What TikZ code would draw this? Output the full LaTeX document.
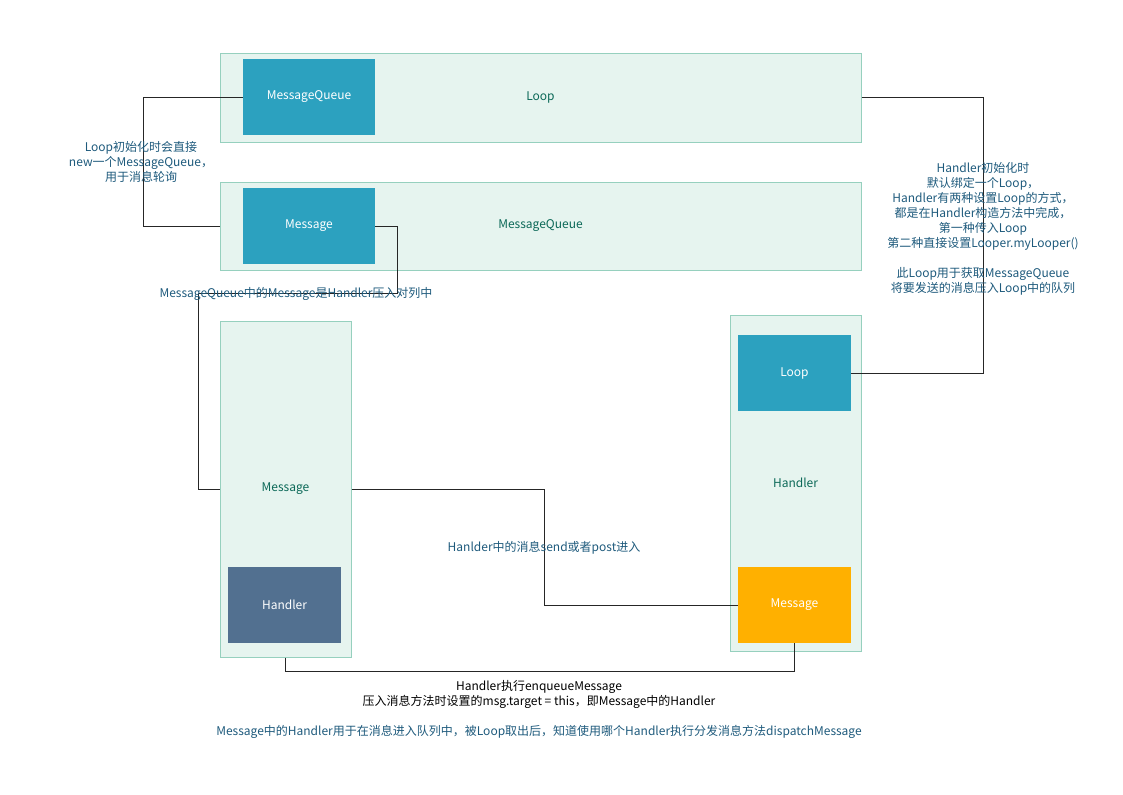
\documentclass[tikz,border=0pt]{standalone}
\usepackage{fontspec}
\setmainfont{Noto Sans CJK SC}
\definecolor{panelfill}{RGB}{230,244,239}
\definecolor{paneledge}{RGB}{150,208,190}
\definecolor{teal}{RGB}{44,161,191}
\definecolor{slate}{RGB}{82,112,144}
\definecolor{amber}{RGB}{255,176,0}
\definecolor{paneltext}{RGB}{12,105,88}
\definecolor{notetext}{RGB}{30,90,124}
\begin{document}
\begin{tikzpicture}[x=0.75pt,y=-0.75pt,
    panel/.style={draw=paneledge, fill=panelfill, line width=0.75pt, text=paneltext, inner sep=0pt},
    block/.style={fill=#1, text=white, minimum width=84.75pt, minimum height=57pt, inner sep=0pt},
    note/.style={text=notetext, align=center},
    every node/.style={font=\fontsize{9}{11.2}\selectfont},
    wire/.style={line width=0.75pt, black!85}]
\useasboundingbox (0,0) rectangle (1123,794);

% upper panels
\node[panel, minimum width=480.75pt, minimum height=66.75pt] (loopcont) at (540.5,97.5) {Loop};
\node[block=teal, minimum width=99pt] (mqbox) at (309,97) {MessageQueue};
\node[panel, minimum width=480.75pt, minimum height=66pt] (queue) at (540.5,226) {MessageQueue};
\node[block=teal, minimum width=99pt] (msgbox) at (309,226) {Message};

% lower columns
\node[panel, minimum width=98.25pt, minimum height=252pt] (msgcol) at (285.5,489) {Message};
\node[block=slate] (hdlbox) at (284.5,605) {Handler};
\node[panel, minimum width=98.25pt, minimum height=252pt] (hdlcol) at (795.5,483) {Handler};
\node[block=teal] (loopbox) at (794.5,373) {Loop};
\node[block=amber] (msgorange) at (794.5,605) {Message};

\coordinate (qturn) at (198,293);

\draw[wire] (mqbox.west) -- ++(-99,0) |- (queue.west);
\draw[wire] (msgbox.east) -- ++(22,0) |- (qturn) |- (msgcol.west);
\draw[wire] (msgcol.east) -- ++(193,0) |- (msgorange.west);
\draw[wire] (msgcol.south) -- ++(0,14) -| (msgorange.south);
\draw[wire] (loopcont.east) -- ++(122,0) |- (loopbox.east);

\node[note] (n1) at (141,162) {Loop初始化时会直接\\new一个MessageQueue，\\用于消息轮询};
\node[note] (n2) at (296,294) {MessageQueue中的Message是Handler压入对列中};
\node[note] (n3) at (983,229) {Handler初始化时\\默认绑定一个Loop，\\Handler有两种设置Loop的方式，\\都是在Handler构造方法中完成，\\第一种传入Loop\\第二种直接设置Looper.myLooper()\\[11.2pt]此Loop用于获取MessageQueue\\将要发送的消息压入Loop中的队列};
\node[note] (n4) at (544,548) {Hanlder中的消息send或者post进入};
\node[align=center] (n5) at (539,694) {Handler执行enqueueMessage\\压入消息方法时设置的msg.target = this，即Message中的Handler};
\node[note] (n6) at (539,732) {Message中的Handler用于在消息进入队列中，被Loop取出后，知道使用哪个Handler执行分发消息方法dispatchMessage};

\end{tikzpicture}
\end{document}
